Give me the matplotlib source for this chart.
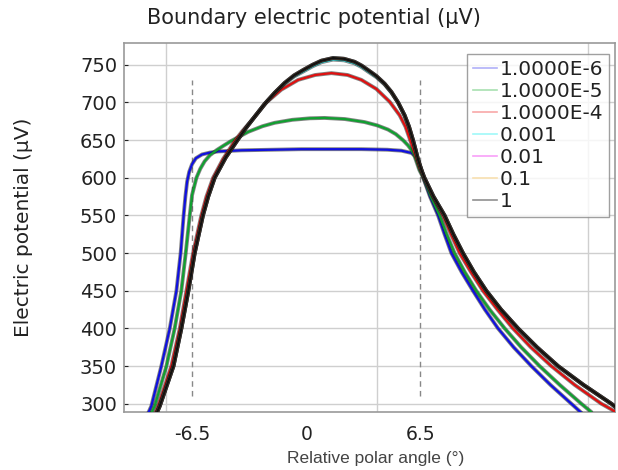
import matplotlib
matplotlib.use("Agg")
import matplotlib.pyplot as plt
from matplotlib.lines import Line2D
import matplotlib.patheffects as pe

# ---- data ----
series_labels = ["1.0000E-6", "1.0000E-5", "1.0000E-4", "0.001", "0.01", "0.1", "1"]
series_colors = ["#1010e0", "#10a030", "#e01010", "#30e0e0", "#ff30ff", "#ffb030", "#111111"]
legend_colors = ["#b0b0f8", "#a8e0b0", "#f8a8a8", "#a0f8f8", "#f8a0f8", "#f8e0b0", "#909090"]

x_1e6 = [-9.01, -8.84, -8.27, -7.79, -7.41, -7.17, -7.00, -6.90, -6.80, -6.68, -6.52, -6.30,
         -5.95, -5.50, -5.03, -3.71, -0.29, 3.14, 4.60, 5.42, 5.99, 6.20, 6.37, 6.56, 6.67,
         7.05, 7.51, 7.88, 8.27, 8.85, 9.50, 10.18, 10.93, 11.82, 12.83, 13.92, 15.11, 15.68]
y_1e6 = [288, 297, 350, 400, 450, 500, 550, 575, 595, 608, 618, 626,
         631, 633.5, 635, 636.5, 638, 638, 637.3, 636, 633, 629, 624, 611, 600,
         575, 550, 525, 500, 475, 450, 425, 400, 375, 350, 325, 300, 288]

x_1e5 = [-8.83, -8.65, -7.98, -7.51, -7.13, -6.88, -6.65, -6.52, -6.27, -6.05, -5.80, -5.50,
         -5.10, -4.70, -4.28, -3.32, -2.50, -1.81, -0.80, 0.20, 1.04, 2.20, 3.32, 4.05, 4.66,
         5.10, 5.51, 5.80, 5.99, 6.15, 6.27, 6.45, 6.67, 7.10, 7.60, 8.00, 8.45, 9.03, 9.69,
         10.45, 11.31, 12.25, 13.30, 14.45, 15.68, 16.25]
y_1e5 = [288, 297, 350, 400, 450, 500, 550, 577, 600, 612, 622, 630,
         637, 643, 649, 661, 668.5, 673, 677, 679, 679.5, 678, 674, 669.5, 664,
         658, 650, 643, 637, 630, 622, 610, 600, 575, 550, 525, 500, 475, 450,
         425, 400, 375, 350, 325, 300, 289]

x_1e4 = [-8.61, -8.45, -7.70, -7.22, -6.84, -6.46, -5.99, -5.70, -5.32, -4.75, -4.05, -3.65,
         -2.95, -2.28, -1.43, -0.47, 0.50, 1.43, 2.35, 3.14, 3.99, 4.75, 5.32, 5.65, 5.89,
         6.10, 6.27, 6.45, 6.70, 7.20, 7.79, 8.25, 8.74, 9.38, 10.07, 10.90, 11.78, 12.80,
         13.97, 15.30, 16.82, 17.58]
y_1e4 = [288, 297, 350, 400, 450, 500, 550, 575, 600, 625, 650, 662,
         681, 700, 717, 730, 736.5, 739, 736.5, 730, 718, 701, 683, 668, 652,
         638, 626, 613, 600, 575, 550, 525, 500, 475, 450, 425, 400, 375,
         350, 325, 300, 290]

x_hi = [-8.53, -8.36, -7.58, -7.13, -6.73, -6.37, -5.90, -5.60, -5.23, -4.60, -3.93, -3.45,
        -2.95, -2.38, -1.80, -1.24, -0.70, -0.19, 0.35, 0.86, 1.52, 2.15, 2.75, 3.15, 3.52,
        4.00, 4.46, 4.85, 5.23, 5.60, 5.85, 6.08, 6.23, 6.37, 6.55, 6.73, 7.25, 7.88, 8.38,
        8.93, 9.55, 10.26, 11.10, 12.07, 13.15, 14.35, 15.80, 17.39, 17.77]
y_1e3 = [288, 297, 350, 400, 450, 500, 550, 575, 600, 627, 650, 666,
         681, 698, 713, 725, 734.5, 741, 748, 753.5, 757, 756, 752, 747, 741,
         733.5, 724, 713, 700, 683, 668, 650, 637, 624, 611, 600, 575, 550, 525,
         500, 475, 450, 425, 400, 375, 350, 325, 300, 293]
y_1e2 = [288, 297, 350, 400, 450, 500, 550, 575, 600, 627, 650, 666,
         681, 698, 713, 726, 736, 743, 750, 755.5, 759, 758, 754, 749, 743,
         735, 725, 714, 700, 683, 668, 650, 637, 624, 611, 600, 575, 550, 525,
         500, 475, 450, 425, 400, 375, 350, 325, 300, 293]
y_1e1 = [288, 297, 350, 400, 450, 500, 550, 575, 600, 627, 650, 666,
         681, 698, 713, 726, 736, 743, 750, 755.5, 759, 758, 754, 749, 743,
         735, 725, 714, 700, 683, 668, 650, 637, 624, 611, 600, 575, 550, 525,
         500, 475, 450, 425, 400, 375, 350, 325, 300, 293]
y_1 = [288, 297, 350, 400, 450, 500, 550, 575, 600, 627, 650, 666,
       681, 698, 713, 726, 736, 743, 750, 755.5, 759, 758, 754, 749, 743,
       735, 725, 714, 700, 683, 668, 650, 637, 624, 611, 600, 575, 550, 525,
       500, 475, 450, 425, 400, 375, 350, 325, 300, 293]

series_x = [x_1e6, x_1e5, x_1e4, x_hi, x_hi, x_hi, x_hi]
series_y = [y_1e6, y_1e5, y_1e4, y_1e3, y_1e2, y_1e1, y_1]

xtick_vals = [-6.5, 0, 6.5]
xtick_labels = ["-6.5", "0", "6.5"]
ytick_vals = [300, 350, 400, 450, 500, 550, 600, 650, 700, 750]
grid_x = [-7.98, 4.05, 16.08]
marker_x = [-6.5, 6.5]

# ---- figure ----
fig = plt.figure(figsize=(6.18, 4.70), dpi=100)
ax = fig.add_axes([124 / 618, 1 - 412 / 470, (615 - 124) / 618, (412 - 43) / 470])

ax.set_xlim(-10.4, 17.6)
ax.set_ylim(289, 779)

for yv in ytick_vals:
    ax.axhline(yv, color="#cfcfcf", lw=1.0, zorder=0)
for gx in grid_x:
    ax.axvline(gx, color="#cfcfcf", lw=1.0, zorder=0)

for mx in marker_x:
    ax.plot([mx, mx], [310, 730], color="#888888", lw=1.0, ls=(0, (4, 3)), zorder=1)

for xs, ys, c in zip(series_x, series_y, series_colors):
    ax.plot(xs, ys, color=c, lw=1.6, zorder=3, solid_joinstyle="round",
            solid_capstyle="round",
            path_effects=[pe.Stroke(linewidth=2.8, foreground="#202020", alpha=0.55), pe.Normal()])

ax.set_xticks(xtick_vals)
ax.set_xticklabels(xtick_labels)
ax.set_yticks(ytick_vals)
ax.tick_params(axis="x", length=0, labelsize=13.5, pad=9, colors="#222222")
ax.tick_params(axis="y", length=3, direction="in", labelsize=14, pad=5, colors="#222222")
for sp in ax.spines.values():
    sp.set_color("#999999")
    sp.set_linewidth(1.2)

ax.set_ylabel("Electric potential (µV)", fontsize=14.5, color="#222222", labelpad=34)
fig.text(376 / 618, 1 - 458 / 470, "Relative polar angle (°)", fontsize=12.5,
         family="Liberation Sans", color="#444444", ha="center", va="center")
fig.text(314 / 618, 1 - 18 / 470, "Boundary electric potential (µV)", fontsize=15,
         color="#222222", ha="center", va="center")

handles = [Line2D([], [], color=c, lw=1.2) for c in legend_colors]
leg = ax.legend(handles, series_labels, loc="upper right",
                bbox_to_anchor=((609 - 124) / 491, (412 - 54) / 369), borderaxespad=0,
                fontsize=14.5, frameon=True, fancybox=False, handlelength=1.2,
                handletextpad=0.1, borderpad=0.3, labelspacing=0.15)
leg.get_frame().set_edgecolor("#888888")
leg.get_frame().set_linewidth(1.0)
for t in leg.get_texts():
    t.set_color("#222222")

fig.savefig("out.png", dpi=100)
